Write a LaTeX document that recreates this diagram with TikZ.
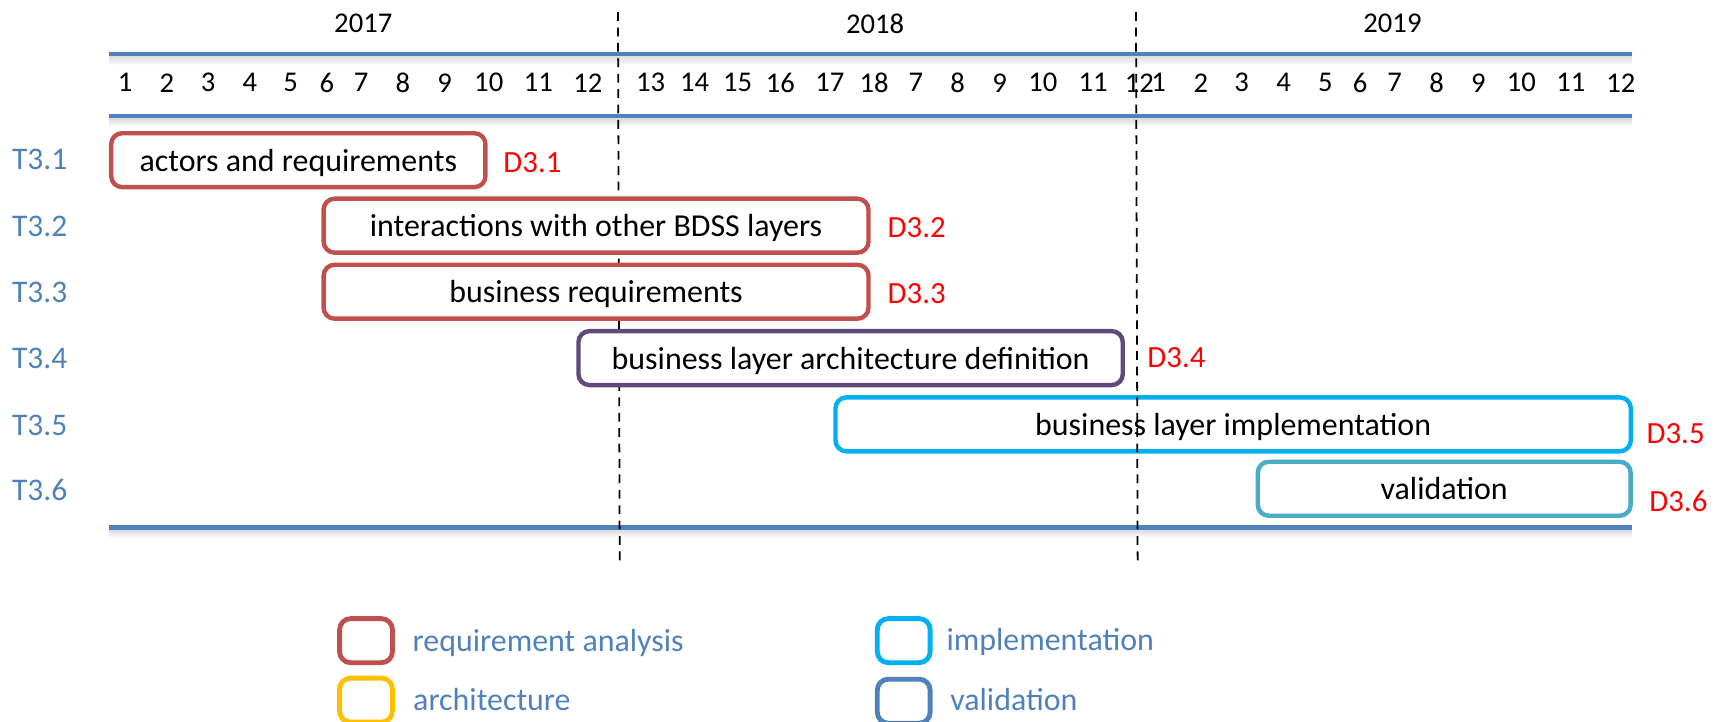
\documentclass[tikz,border=0pt]{standalone}
\usepackage{fontspec}
\setmainfont{Carlito}
\definecolor{reqred}{HTML}{C0504D}
\definecolor{archpurple}{HTML}{604A7B}
\definecolor{implcyan}{HTML}{00B0F0}
\definecolor{valteal}{HTML}{4BACC6}
\definecolor{rulblue}{HTML}{4F81BD}
\definecolor{archyellow}{HTML}{FFC000}
\definecolor{delred}{HTML}{FF0000}
\begin{document}
\begin{tikzpicture}[x=0.5pt,y=-0.5pt,
 rule/.style={line width=2.1pt, draw=rulblue},
 ruleshadow/.style={line width=1pt, draw=black},
 yeardash/.style={draw=black, line width=0.8pt, dash pattern=on 4pt off 3pt},
 taskbox/.style={draw, line width=2pt, rounded corners=5pt, minimum height=24.5pt, inner sep=0pt, font=\fontsize{14.5}{17}\selectfont, text height=10pt, text depth=0pt},
 tasklabel/.style={font=\fontsize{14.3}{17}\selectfont, text=rulblue, inner sep=0pt},
 dlabel/.style={anchor=west, font=\fontsize{14}{17}\selectfont, text=delred, inner sep=0pt},
 month/.style={font=\fontsize{13}{15}\selectfont, inner sep=0pt},
 yearlabel/.style={font=\fontsize{13}{15}\selectfont, inner sep=0pt},
 legbox/.style={draw, line width=2.2pt, rounded corners=5pt, minimum width=24pt, minimum height=20pt, inner sep=0pt},
 legtext/.style={anchor=base west, font=\fontsize{14.5}{17}\selectfont, text=rulblue, inner sep=0pt}
]
\useasboundingbox (0,0) rectangle (1568,655);
\clip (0,0) rectangle (1568,655);

% horizontal rules with soft shadow
\foreach \yy/\nm in {49/a,105.4/b,479/c}{
  \coordinate (rl\nm) at (99,\yy);
  \coordinate (rr\nm) at (1482.6,\yy);
  \foreach \d/\o in {2/0.07,3/0.07,4/0.06,5/0.05,6/0.04,7/0.03,8/0.02,9/0.01}{
    \draw[ruleshadow, opacity=\o] ([yshift=-\d*0.5pt]rl\nm) -- ([yshift=-\d*0.5pt]rr\nm);
  }
  \draw[rule] (rl\nm) -- (rr\nm);
}

% years
\node[yearlabel] (y2017) at (330,21.5) {2017};
\node[yearlabel] (y2018) at (795,21.5) {2018};
\node[yearlabel] (y2019) at (1265,21.5) {2019};

% months
\foreach \x/\l [count=\i] in {113.6/1,151.7/2,189/3,227/4,264/5,297/6,328/7,366/8,404/9,444/10,489/11,534/12,
  591/13,631/14,670/15,709/16,754/17,794/18,832/7,870/8,908/9,947.5/10,993/11,1035/12,
  1052.6/1,1091/2,1128/3,1166/4,1204/5,1235.5/6,1267/7,1305/8,1343/9,1382/10,1427/11,1472.5/12}{
  \node[month] (m\i) at (\x,75.2) {\l};
}

% T3.5 box (unfilled, the dashed line shows through)
\node[taskbox, draw=implcyan, minimum width=361.25pt] (t5) at (1120.25,385.5) {business layer implementation};

% year separators
\coordinate (s1t) at (561.4,11); \coordinate (s1b) at (563,513);
\coordinate (s2t) at (1032,11); \coordinate (s2b) at (1033.5,513);
\draw[yeardash] (s1t) -- (s1b);
\draw[yeardash] (s2t) -- (s2b);

% task boxes
\node[taskbox, draw=reqred, fill=white, minimum width=170pt] (t1) at (271,145.5) {actors and requirements};
\node[taskbox, draw=reqred, fill=white, minimum width=247.5pt] (t2) at (541.5,205) {interactions with other BDSS layers};
\node[taskbox, draw=reqred, fill=white, minimum width=247.5pt] (t3) at (541.5,265) {business requirements};
\node[taskbox, draw=archpurple, fill=white, minimum width=247.25pt] (t4) at (772.75,325.3) {business layer architecture definition};
\node[taskbox, draw=valteal, fill=white, minimum width=169.4pt] (t6) at (1312,444) {validation};

% task labels
\node[tasklabel] (l1) at (36,144.7) {T3.1};
\node[tasklabel] (l2) at (36,205.5) {T3.2};
\node[tasklabel] (l3) at (36,265.5) {T3.3};
\node[tasklabel] (l4) at (36,325.5) {T3.4};
\node[tasklabel] (l5) at (36,386) {T3.5};
\node[tasklabel] (l6) at (36,445.5) {T3.6};

% deliverables
\node[dlabel] (d1) at (457,148) {D3.1};
\node[dlabel] (d2) at (806,207) {D3.2};
\node[dlabel] (d3) at (806,267) {D3.3};
\node[dlabel] (d4) at (1042,325) {D3.4};
\node[dlabel] (d5) at (1495.5,393.5) {D3.5};
\node[dlabel] (d6) at (1498,455) {D3.6};

% legend
\node[legbox, draw=reqred] (k1) at (332.5,582) {};
\node[legbox, draw=archyellow] (k2) at (332.5,636) {};
\node[legbox, draw=implcyan] (k3) at (821,582) {};
\node[legbox, draw=rulblue] (k4) at (821,637) {};
\node[legtext] (kt1) at (374.5,592) {requirement analysis};
\node[legtext] (kt2) at (375,645) {architecture};
\node[legtext] (kt3) at (859.5,591) {implementation};
\node[legtext] (kt4) at (863,645) {validation};
\end{tikzpicture}
\end{document}
